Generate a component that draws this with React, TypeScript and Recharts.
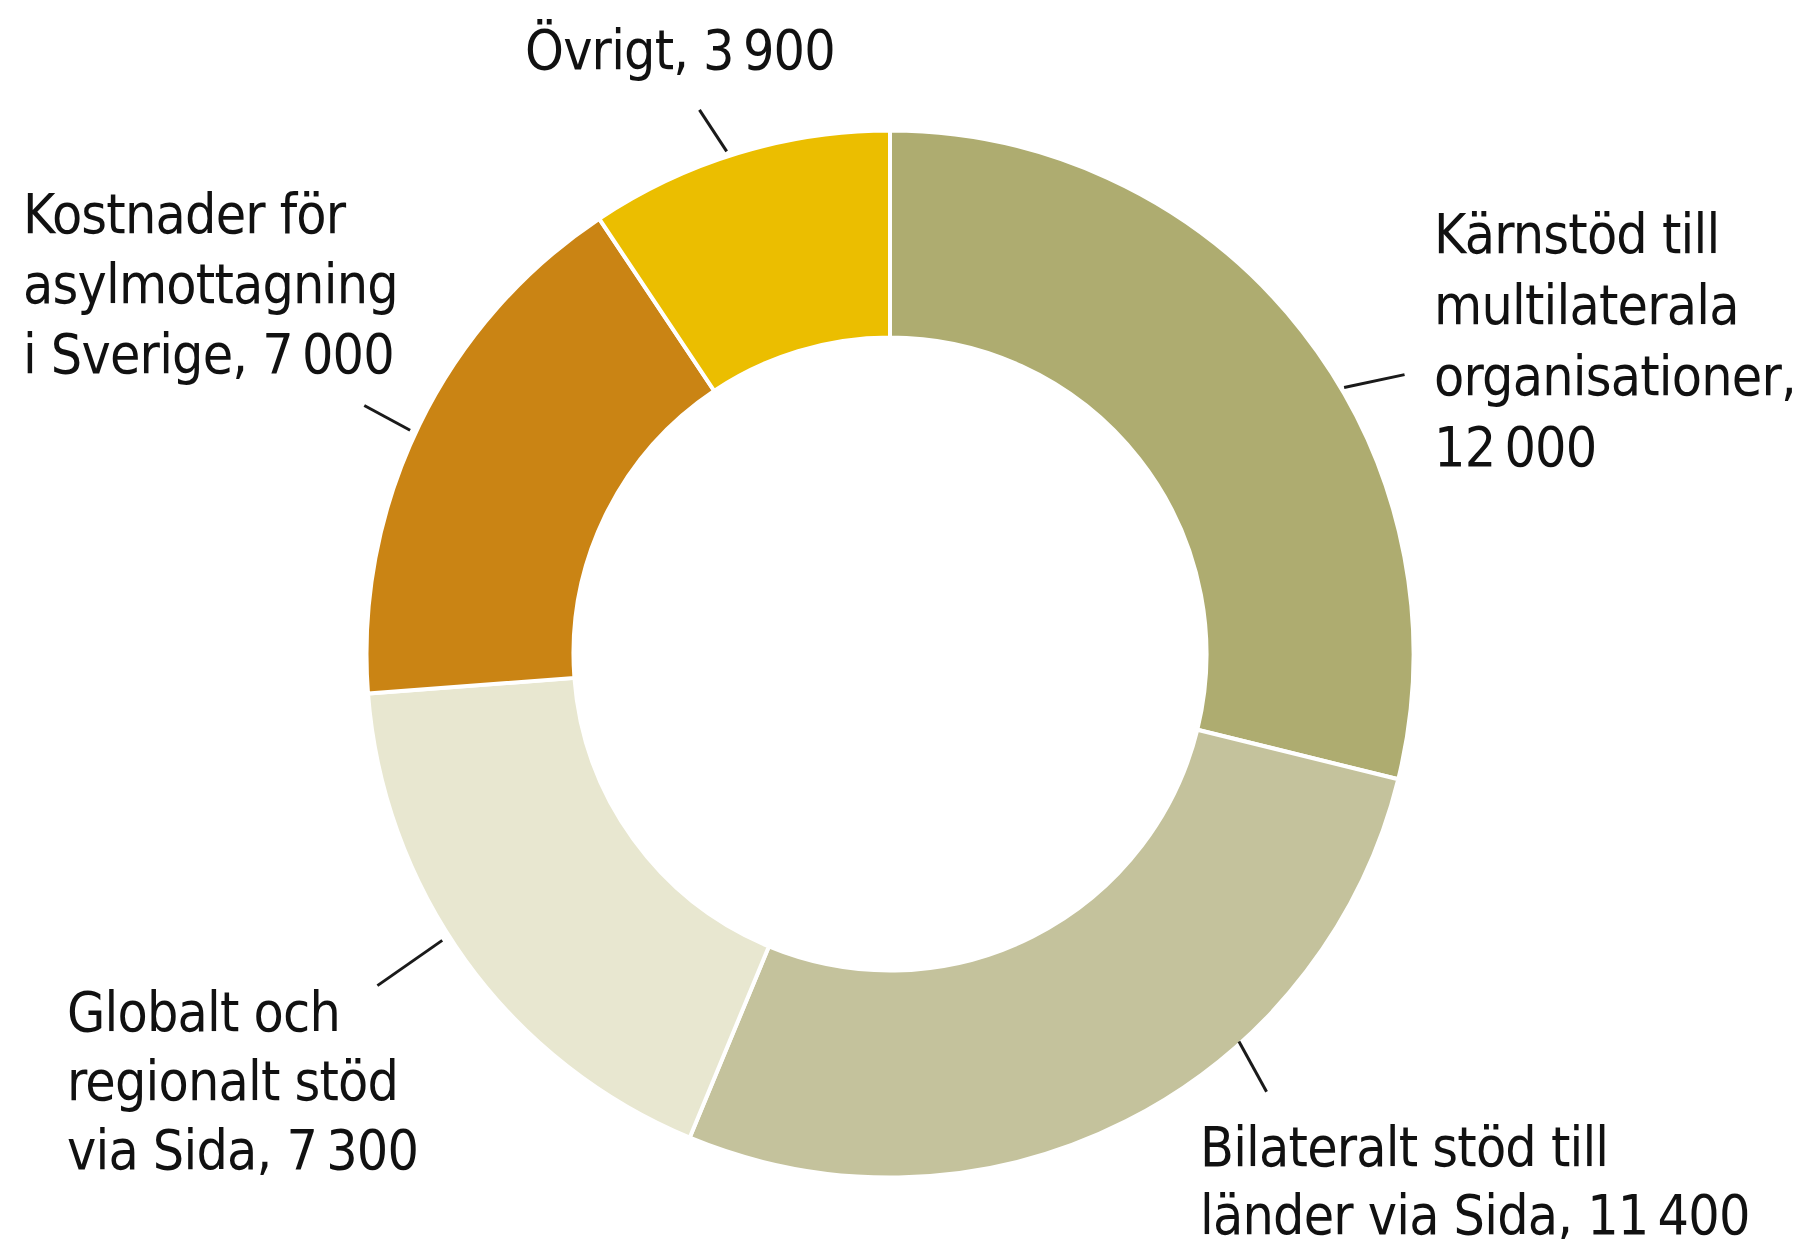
import React from 'react'
import { PieChart, Pie, Cell } from 'recharts'

// Swedish aid budget by channel (MSEK)
const categories = [
  'Kärnstöd till multilaterala organisationer',
  'Bilateralt stöd till länder via Sida',
  'Globalt och regionalt stöd via Sida',
  'Kostnader för asylmottagning i Sverige',
  'Övrigt',
]
const values = [12000, 11400, 7300, 7000, 3900]
const labelTexts = [
  ['Kärnstöd till', 'multilaterala', 'organisationer,', '12\u2009000'],
  ['Bilateralt stöd till', 'länder via Sida, 11\u2009400'],
  ['Globalt och', 'regionalt stöd', 'via Sida, 7\u2009300'],
  ['Kostnader för', 'asylmottagning', 'i Sverige, 7\u2009000'],
  ['Övrigt, 3\u2009900'],
]
const colors = ['#aeac70', '#c4c29c', '#e8e7d0', '#ca8414', '#ebbe00']

// label placement, relative to the pie centre
const labelLayout = [
  { dx: 544, dy: -401, lh: 71, from: [30.4, 5], to: [28.5, 64] },
  { dx: 310, dy: 512, lh: 68, from: [-48, 0], to: [-49.3, 56] },
  { dx: -823, dy: 377, lh: 69, from: [212.6, 10], to: [212.9, 89] },
  { dx: -867, dy: -421, lh: 70, from: [155, 8], to: [154.7, 60] },
  { dx: -365, dy: -585, lh: 70, from: [108, 7], to: [109.3, 55] },
]

const CX = 877
const CY = 641
const OUTER = 523.5
const INNER = 316.5
const RAD = Math.PI / 180

const data = categories.map((name, i) => ({ name, value: values[i] }))

const renderLabel = (props: any) => {
  const { index } = props
  const cx = typeof props.cx === 'number' ? props.cx : CX
  const cy = typeof props.cy === 'number' ? props.cy : CY
  const r = OUTER - 2
  const l = labelLayout[index]
  const p = (a: number, dr: number) => [
    cx + (r + dr) * Math.cos(a * RAD),
    cy - (r + dr) * Math.sin(a * RAD),
  ]
  const [x1, y1] = p(l.from[0], l.from[1])
  const [x2, y2] = p(l.to[0], l.to[1])
  return (
    <g key={`label-${index}`}>
      <line x1={x1} y1={y1} x2={x2} y2={y2} stroke="#1a1a1a" strokeWidth={3} />
      <text
        x={cx + l.dx}
        y={cy + l.dy}
        fill="#111"
        fontSize={55}
        letterSpacing={-0.8}
        fontFamily="'DejaVu Sans Condensed', 'Roboto', sans-serif"
      >
        {labelTexts[index].map((line, j) => (
          <tspan key={j} x={cx + l.dx} y={cy + l.dy + j * l.lh}>
            {line}
          </tspan>
        ))}
      </text>
    </g>
  )
}

export default function App() {
  return (
    <div style={{ width: 1796, height: 1231, background: '#fff' }}>
      <PieChart width={1796} height={1231}>
        <Pie
          data={data}
          dataKey="value"
          nameKey="name"
          cx={CX}
          cy={CY}
          innerRadius={INNER}
          outerRadius={OUTER}
          startAngle={90}
          endAngle={-270}
          stroke="#ffffff"
          strokeWidth={4}
          label={renderLabel}
          labelLine={false}
          isAnimationActive={false}
        >
          {data.map((d, i) => (
            <Cell key={d.name} fill={colors[i]} />
          ))}
        </Pie>
      </PieChart>
    </div>
  )
}
